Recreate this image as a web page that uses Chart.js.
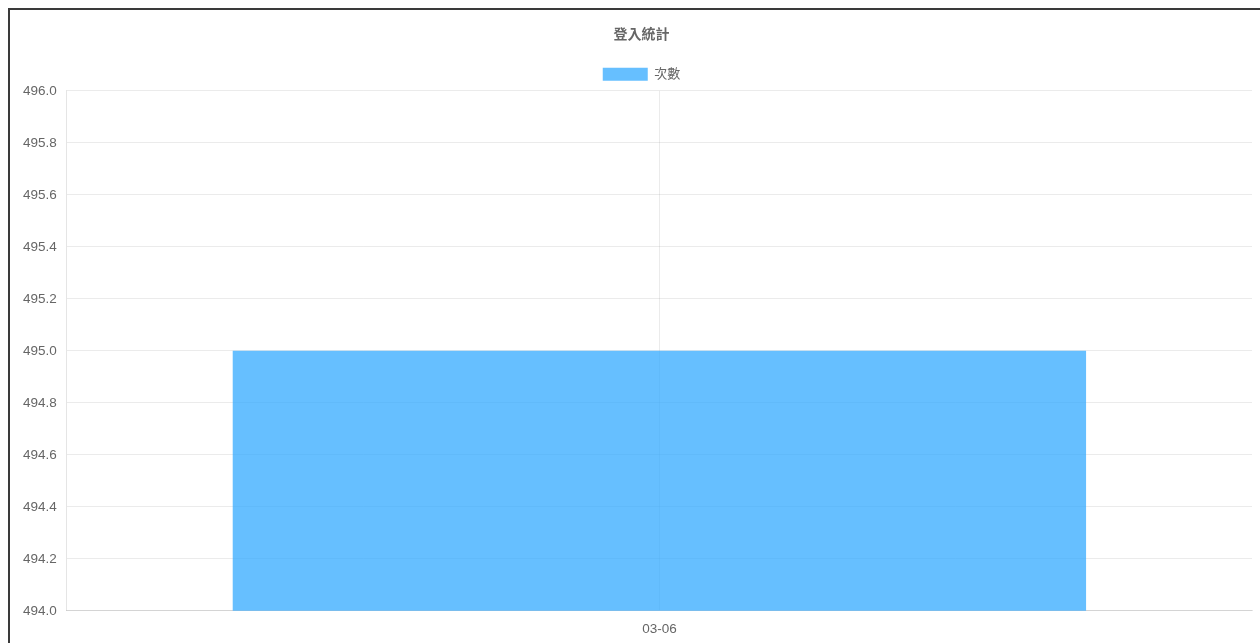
<!DOCTYPE html>
<html>
<head>
<meta charset="utf-8">
<script src="https://cdn.jsdelivr.net/npm/chart.js@4/dist/chart.umd.min.js"></script>
<style>
  html, body { margin: 0; padding: 0; overflow: hidden; background: #fff; }
  #box { position: absolute; left: 8px; top: 8px; width: 1300px; height: 700px; border: 2px solid #3a3a3a; }
  #wrap { position: absolute; left: 0; top: 0; width: 1266px; height: 637px; }
</style>
</head>
<body>
<div id="box"><div id="wrap"><canvas id="myChart"></canvas></div></div>
<script>
var labels = ['03-06'];
var counts = [495];
var yTicks = [494.0, 494.2, 494.4, 494.6, 494.8, 495.0, 495.2, 495.4, 495.6, 495.8, 496.0];

var ctx = document.getElementById('myChart').getContext('2d');
var font = "'Liberation Sans', Arial, 'Noto Sans CJK TC', sans-serif";
Chart.defaults.font.family = font;
Chart.defaults.color = '#666';

var myChart = new Chart(ctx, {
    type: 'bar',
    data: {
        labels: labels,
        datasets: [{
            label: '次數',
            data: counts,
            backgroundColor: 'rgba(51, 170, 255, 0.75)',
            borderColor: 'rgba(51, 170, 255, 0.75)',
            borderWidth: 0
        }]
    },
    options: {
        responsive: true,
        maintainAspectRatio: false,
        animation: false,
        layout: { padding: { left: 3, right: 6, top: 10, bottom: 0 } },
        plugins: {
            title: {
                display: true,
                text: '登入統計',
                font: { size: 14, weight: 'bold' },
                padding: { top: 7, bottom: 13 }
            },
            legend: {
                labels: { boxWidth: 45, boxHeight: 13, font: { size: 13 }, padding: 11 }
            },
            tooltip: { enabled: false }
        },
        scales: {
            x: {
                grid: { color: 'rgba(0,0,0,0.08)', drawTicks: false, offset: false },
                border: { color: 'rgba(0,0,0,0.10)' },
                ticks: { font: { size: 13.5 }, padding: 10 }
            },
            y: {
                min: yTicks[0],
                max: yTicks[yTicks.length - 1],
                afterBuildTicks: function(axis) {
                    axis.ticks = yTicks.map(function(v) { return { value: v }; });
                },
                grid: { color: 'rgba(0,0,0,0.08)', drawTicks: false },
                border: { color: 'rgba(0,0,0,0.10)' },
                ticks: {
                    font: { size: 13.5 },
                    padding: 10,
                    callback: function(v) { return Number(v).toFixed(1); }
                }
            },
            // empty right gutter so the chart area stops before the clipped edge
            gutter: {
                position: 'right',
                min: 0,
                max: 1,
                grid: { display: false },
                border: { display: false },
                ticks: { display: false },
                afterFit: function(axis) { axis.width = 18; }
            }
        }
    }
});
</script>
</body>
</html>
